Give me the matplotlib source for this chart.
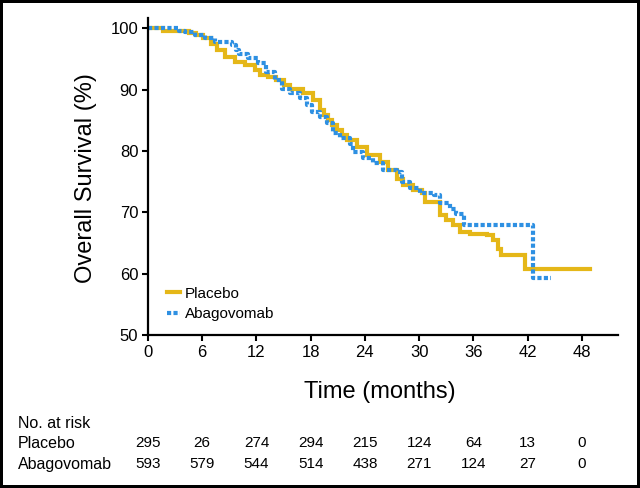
import matplotlib
matplotlib.use('Agg')
import matplotlib.pyplot as plt
import matplotlib.transforms as mtransforms

# survival curves (months, % surviving after the step)
placebo_t = [0, 1.7, 4.5, 5.3, 6.1, 7.0, 7.6, 8.5, 9.6, 10.7, 11.8, 12.4, 13.3, 14.2,
             15.0, 15.7, 17.1, 18.2, 19.0, 19.5, 19.9, 20.4, 20.9, 21.5, 22.0, 23.1,
             24.2, 25.7, 26.6, 27.5, 28.2, 29.3, 30.3, 30.6, 32.3, 33.0, 33.8, 34.5,
             35.6, 37.5, 38.2, 38.7, 39.1, 41.7, 48.9]
placebo_s = [100, 99.5, 99.2, 98.9, 98.4, 97.5, 96.5, 95.4, 94.6, 94.0, 93.2, 92.4, 92.1, 91.6,
             90.8, 90.2, 89.4, 88.3, 86.7, 85.8, 85.0, 84.2, 83.4, 82.6, 81.8, 80.7,
             79.3, 78.2, 76.9, 75.5, 74.4, 73.6, 73.1, 71.7, 69.5, 68.7, 67.9, 66.8,
             66.5, 66.3, 65.5, 64.1, 63.0, 60.8, 60.8]

abago_t = [0, 3.4, 4.1, 5.2, 6.3, 7.4, 9.3, 9.7, 10.1, 11.1, 12.2, 13.1, 14.0, 14.8,
           15.7, 16.8, 17.6, 18.1, 19.0, 19.8, 20.5, 21.2, 22.3, 22.7, 23.8, 24.9,
           26.0, 27.5, 28.1, 29.0, 30.1, 31.6, 32.3, 33.4, 34.1, 35.0, 42.6, 44.6]
abago_s = [100, 99.5, 99.4, 98.9, 98.4, 97.8, 97.3, 96.5, 95.9, 95.1, 94.3, 92.9, 91.6, 90.2,
           89.4, 88.6, 87.5, 86.4, 85.6, 84.5, 82.9, 82.1, 81.2, 79.9, 78.8, 78.0,
           76.9, 76.6, 75.0, 73.9, 73.1, 72.8, 71.5, 70.6, 69.8, 68.0, 59.3, 59.3]

# number at risk table
risk_times = [0, 6, 12, 18, 24, 30, 36, 42, 48]
risk_placebo = [295, 26, 274, 294, 215, 124, 64, 13, 0]
risk_abago = [593, 579, 544, 514, 438, 271, 124, 27, 0]

yellow = '#E5B718'
blue = '#2E90E2'
plt.rcParams['font.family'] = ['Liberation Sans', 'DejaVu Sans']

fig = plt.figure(figsize=(6.4, 4.88), dpi=100)
fig.patch.set_edgecolor('black')
fig.patch.set_linewidth(4)
ax = fig.add_axes([148 / 640, 1 - 335 / 488, 470 / 640, 317 / 488])

ax.step(placebo_t, placebo_s, where='post', color=yellow, lw=3, label='Placebo',
        solid_joinstyle='miter')
ax.step(abago_t, abago_s, where='post', color=blue, lw=3, label='Abagovomab',
        linestyle=(0, (1.0, 0.55)), dash_capstyle='butt')

ax.set_xlim(0, 52)
ax.set_ylim(50, 101.7)
ax.set_xticks(risk_times)
ax.set_yticks([50, 60, 70, 80, 90, 100])
ax.spines['top'].set_visible(False)
ax.spines['right'].set_visible(False)
for s in ['left', 'bottom']:
    ax.spines[s].set_linewidth(1.6)
ax.tick_params(direction='out', length=4, width=1.5, labelsize=12, pad=3)

leg = ax.legend(loc='upper left', bbox_to_anchor=(0.04, 0.152), frameon=False,
                fontsize=11, handlelength=0.85, handletextpad=0.35,
                borderpad=0, borderaxespad=0, labelspacing=0.42)

fig.text(86 / 640, 1 - 178 / 488, 'Overall Survival (%)', rotation=90, ha='center',
         va='center', fontsize=17)
fig.text(380 / 640, 1 - 392 / 488, 'Time (months)', ha='center', va='center',
         fontsize=17)

fig.text(18 / 640, 1 - 423 / 488, 'No. at risk', ha='left', va='center', fontsize=11.5)
fig.text(18 / 640, 1 - 443 / 488, 'Placebo', ha='left', va='center', fontsize=11.5)
fig.text(18 / 640, 1 - 464 / 488, 'Abagovomab', ha='left', va='center', fontsize=11.5)
trans = mtransforms.blended_transform_factory(ax.transData, fig.transFigure)
for t, p, a in zip(risk_times, risk_placebo, risk_abago):
    ax.text(t, 1 - 443 / 488, str(p), transform=trans, ha='center', va='center', fontsize=11)
    ax.text(t, 1 - 464 / 488, str(a), transform=trans, ha='center', va='center', fontsize=11)

fig.savefig('out.png', dpi=100)
